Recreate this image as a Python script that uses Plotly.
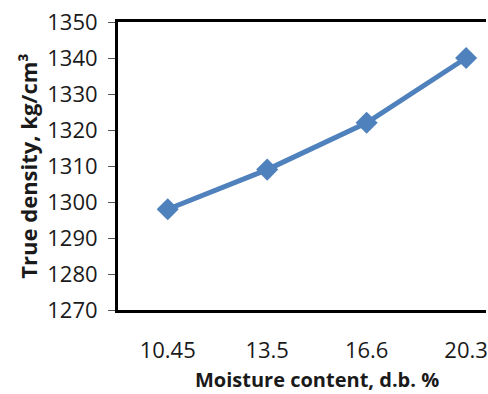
import plotly.graph_objects as go

# Moisture content categories (d.b. %) and measured true density
moisture = ["10.45", "13.5", "16.6", "20.3"]
true_density = [1298, 1309, 1322, 1340]

y_ticks = [1270, 1280, 1290, 1300, 1310, 1320, 1330, 1340, 1350]

pos = list(range(len(moisture)))

fig = go.Figure(
    go.Scatter(
        x=pos,
        y=true_density,
        mode="lines+markers",
        line=dict(color="#4F81BD", width=5),
        marker=dict(symbol="diamond", size=17, color="#4F81BD"),
        showlegend=False,
    )
)

font_family = "Open Sans, Liberation Sans, sans-serif"
text_color = "#1a1a1a"

fig.update_layout(
    width=488,
    height=394,
    margin=dict(l=118, r=0, t=22, b=84),
    paper_bgcolor="white",
    plot_bgcolor="white",
    font=dict(family=font_family, size=22, color=text_color),
    xaxis=dict(
        range=[-0.5, 3.2],
        tickvals=pos,
        ticktext=moisture,
        showgrid=False,
        zeroline=False,
        showline=True,
        linecolor="black",
        linewidth=3,
        mirror=True,
        ticks="",
        ticklabelstandoff=19,
        ticklabeloverflow="allow",
    ),
    yaxis=dict(
        range=[1270, 1350],
        tickvals=y_ticks,
        showgrid=False,
        zeroline=False,
        showline=True,
        linecolor="black",
        linewidth=3,
        ticks="outside",
        ticklen=7,
        tickwidth=1,
        tickcolor="#555555",
        ticklabelstandoff=6,
        title=dict(
            text="<b>True density, kg/cm³</b>",
            font=dict(size=22, color=text_color),
            standoff=4,
        ),
    ),
    # x-axis title centred under the full category band
    annotations=[
        dict(
            text="<b>Moisture content, d.b. %</b>",
            x=(pos[0] + pos[-1]) / 2,
            xref="x",
            y=0,
            yref="paper",
            yanchor="middle",
            yshift=-69,
            showarrow=False,
            font=dict(size=20, color=text_color),
        )
    ],
)

fig.write_html("out.html")
